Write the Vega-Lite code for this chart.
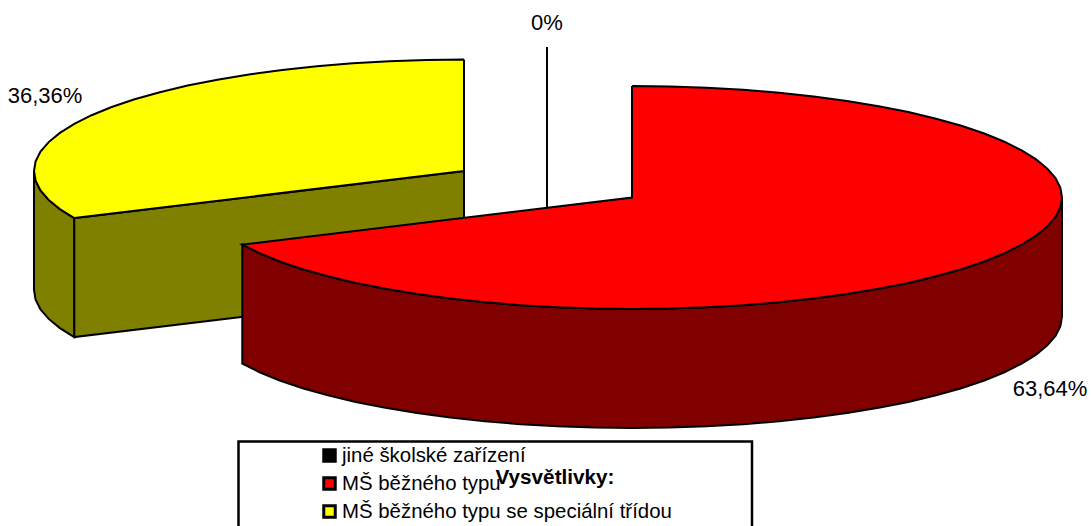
{
  "$schema": "https://vega.github.io/schema/vega-lite/v6.json",
  "width": 1091,
  "height": 526,
  "padding": 0,
  "autosize": {"type": "fit", "contains": "padding"},
  "background": "white",
  "config": {"view": {"stroke": null}},
  "datasets": {
    "faces": [
      {"face":"spec_bok","x":34,"y":171},{"face":"spec_bok","x":35.6,"y":180.7},{"face":"spec_bok","x":40.5,"y":190.4},{"face":"spec_bok","x":48.7,"y":199.9},{"face":"spec_bok","x":59.9,"y":209.1},{"face":"spec_bok","x":74.3,"y":218.1},{"face":"spec_bok","x":74.3,"y":337.1},{"face":"spec_bok","x":59.9,"y":328.1},{"face":"spec_bok","x":48.7,"y":318.9},{"face":"spec_bok","x":40.5,"y":309.4},{"face":"spec_bok","x":35.6,"y":299.7},{"face":"spec_bok","x":34,"y":290},{"face":"spec_bok","x":34,"y":171},
      {"face":"spec_rez","x":74.3,"y":218.1},{"face":"spec_rez","x":464,"y":171},{"face":"spec_rez","x":464,"y":290},{"face":"spec_rez","x":74.3,"y":337.1},{"face":"spec_rez","x":74.3,"y":218.1},
      {"face":"spec","x":464,"y":59.5},{"face":"spec","x":426.5,"y":59.9},{"face":"spec","x":389.3,"y":61.2},{"face":"spec","x":352.7,"y":63.3},{"face":"spec","x":316.9,"y":66.2},{"face":"spec","x":282.3,"y":69.9},{"face":"spec","x":249,"y":74.4},{"face":"spec","x":217.4,"y":79.7},{"face":"spec","x":187.6,"y":85.6},{"face":"spec","x":159.9,"y":92.2},{"face":"spec","x":134.6,"y":99.3},{"face":"spec","x":111.7,"y":107},{"face":"spec","x":91.6,"y":115.2},{"face":"spec","x":74.3,"y":123.9},{"face":"spec","x":59.9,"y":132.9},{"face":"spec","x":48.7,"y":142.1},{"face":"spec","x":40.5,"y":151.6},{"face":"spec","x":35.6,"y":161.3},{"face":"spec","x":34,"y":171},{"face":"spec","x":35.6,"y":180.7},{"face":"spec","x":40.5,"y":190.4},{"face":"spec","x":48.7,"y":199.9},{"face":"spec","x":59.9,"y":209.1},{"face":"spec","x":74.3,"y":218.1},{"face":"spec","x":464,"y":171},{"face":"spec","x":464,"y":59.5},
      {"face":"jine","x":547,"y":47},{"face":"jine","x":547,"y":207.8},
      {"face":"ms_bok","x":1062,"y":197.5},{"face":"ms_bok","x":1060.4,"y":207.2},{"face":"ms_bok","x":1055.5,"y":216.9},{"face":"ms_bok","x":1047.3,"y":226.4},{"face":"ms_bok","x":1036.1,"y":235.6},{"face":"ms_bok","x":1021.7,"y":244.6},{"face":"ms_bok","x":1004.4,"y":253.3},{"face":"ms_bok","x":984.3,"y":261.5},{"face":"ms_bok","x":961.4,"y":269.2},{"face":"ms_bok","x":936.1,"y":276.3},{"face":"ms_bok","x":908.4,"y":282.9},{"face":"ms_bok","x":878.6,"y":288.8},{"face":"ms_bok","x":847,"y":294.1},{"face":"ms_bok","x":813.7,"y":298.6},{"face":"ms_bok","x":779.1,"y":302.3},{"face":"ms_bok","x":743.3,"y":305.2},{"face":"ms_bok","x":706.7,"y":307.3},{"face":"ms_bok","x":669.5,"y":308.6},{"face":"ms_bok","x":632,"y":309},{"face":"ms_bok","x":594.5,"y":308.6},{"face":"ms_bok","x":557.3,"y":307.3},{"face":"ms_bok","x":520.7,"y":305.2},{"face":"ms_bok","x":484.9,"y":302.3},{"face":"ms_bok","x":450.3,"y":298.6},{"face":"ms_bok","x":417,"y":294.1},{"face":"ms_bok","x":385.4,"y":288.8},{"face":"ms_bok","x":355.6,"y":282.9},{"face":"ms_bok","x":327.9,"y":276.3},{"face":"ms_bok","x":302.6,"y":269.2},{"face":"ms_bok","x":279.7,"y":261.5},{"face":"ms_bok","x":259.6,"y":253.3},{"face":"ms_bok","x":242.3,"y":244.6},
      {"face":"ms_bok","x":242.3,"y":363.6},{"face":"ms_bok","x":259.6,"y":372.3},{"face":"ms_bok","x":279.7,"y":380.5},{"face":"ms_bok","x":302.6,"y":388.2},{"face":"ms_bok","x":327.9,"y":395.3},{"face":"ms_bok","x":355.6,"y":401.9},{"face":"ms_bok","x":385.4,"y":407.8},{"face":"ms_bok","x":417,"y":413.1},{"face":"ms_bok","x":450.3,"y":417.6},{"face":"ms_bok","x":484.9,"y":421.3},{"face":"ms_bok","x":520.7,"y":424.2},{"face":"ms_bok","x":557.3,"y":426.3},{"face":"ms_bok","x":594.5,"y":427.6},{"face":"ms_bok","x":632,"y":428},{"face":"ms_bok","x":669.5,"y":427.6},{"face":"ms_bok","x":706.7,"y":426.3},{"face":"ms_bok","x":743.3,"y":424.2},{"face":"ms_bok","x":779.1,"y":421.3},{"face":"ms_bok","x":813.7,"y":417.6},{"face":"ms_bok","x":847,"y":413.1},{"face":"ms_bok","x":878.6,"y":407.8},{"face":"ms_bok","x":908.4,"y":401.9},{"face":"ms_bok","x":936.1,"y":395.3},{"face":"ms_bok","x":961.4,"y":388.2},{"face":"ms_bok","x":984.3,"y":380.5},{"face":"ms_bok","x":1004.4,"y":372.3},{"face":"ms_bok","x":1021.7,"y":363.6},{"face":"ms_bok","x":1036.1,"y":354.6},{"face":"ms_bok","x":1047.3,"y":345.4},{"face":"ms_bok","x":1055.5,"y":335.9},{"face":"ms_bok","x":1060.4,"y":326.2},{"face":"ms_bok","x":1062,"y":316.5},{"face":"ms_bok","x":1062,"y":197.5},
      {"face":"ms","x":632,"y":86},{"face":"ms","x":669.5,"y":86.4},{"face":"ms","x":706.7,"y":87.7},{"face":"ms","x":743.3,"y":89.8},{"face":"ms","x":779.1,"y":92.7},{"face":"ms","x":813.7,"y":96.4},{"face":"ms","x":847,"y":100.9},{"face":"ms","x":878.6,"y":106.2},{"face":"ms","x":908.4,"y":112.1},{"face":"ms","x":936.1,"y":118.7},{"face":"ms","x":961.4,"y":125.8},{"face":"ms","x":984.3,"y":133.5},{"face":"ms","x":1004.4,"y":141.7},{"face":"ms","x":1021.7,"y":150.4},{"face":"ms","x":1036.1,"y":159.4},{"face":"ms","x":1047.3,"y":168.6},{"face":"ms","x":1055.5,"y":178.1},{"face":"ms","x":1060.4,"y":187.8},{"face":"ms","x":1062,"y":197.5},{"face":"ms","x":1060.4,"y":207.2},{"face":"ms","x":1055.5,"y":216.9},{"face":"ms","x":1047.3,"y":226.4},{"face":"ms","x":1036.1,"y":235.6},{"face":"ms","x":1021.7,"y":244.6},{"face":"ms","x":1004.4,"y":253.3},{"face":"ms","x":984.3,"y":261.5},{"face":"ms","x":961.4,"y":269.2},{"face":"ms","x":936.1,"y":276.3},{"face":"ms","x":908.4,"y":282.9},{"face":"ms","x":878.6,"y":288.8},{"face":"ms","x":847,"y":294.1},{"face":"ms","x":813.7,"y":298.6},{"face":"ms","x":779.1,"y":302.3},{"face":"ms","x":743.3,"y":305.2},{"face":"ms","x":706.7,"y":307.3},{"face":"ms","x":669.5,"y":308.6},{"face":"ms","x":632,"y":309},{"face":"ms","x":594.5,"y":308.6},{"face":"ms","x":557.3,"y":307.3},{"face":"ms","x":520.7,"y":305.2},{"face":"ms","x":484.9,"y":302.3},{"face":"ms","x":450.3,"y":298.6},{"face":"ms","x":417,"y":294.1},{"face":"ms","x":385.4,"y":288.8},{"face":"ms","x":355.6,"y":282.9},{"face":"ms","x":327.9,"y":276.3},{"face":"ms","x":302.6,"y":269.2},{"face":"ms","x":279.7,"y":261.5},{"face":"ms","x":259.6,"y":253.3},{"face":"ms","x":242.3,"y":244.6},{"face":"ms","x":632,"y":197.5},{"face":"ms","x":632,"y":86}
    ],
    "frame": [
      {"x":238.5,"y":526},{"x":238.5,"y":441.5},{"x":752,"y":441.5},{"x":752,"y":526}
    ],
    "shares": [
      {"label":"0%","x":547,"y":23},
      {"label":"36,36%","x":45,"y":96},
      {"label":"63,64%","x":1050,"y":389}
    ],
    "keys": [
      {"face":"jine","label":"jiné školské zařízení","x":329.5,"tx":342,"y":455.5},
      {"face":"ms","label":"MŠ běžného typu","x":329.5,"tx":342,"y":483.5},
      {"face":"spec","label":"MŠ běžného typu se speciální třídou","x":329.5,"tx":342,"y":511.5}
    ],
    "heading": [
      {"label":"Vysvětlivky:","x":555,"y":478}
    ]
  },
  "layer": [
    {
      "data": {"name": "faces"},
      "mark": {"type": "line", "stroke": "black", "strokeWidth": 2, "strokeJoin": "miter", "clip": true},
      "encoding": {
        "x": {"field": "x", "type": "quantitative", "scale": {"domain": [0, 1091], "nice": false, "zero": false}, "axis": null},
        "y": {"field": "y", "type": "quantitative", "scale": {"domain": [526, 0], "nice": false, "zero": false}, "axis": null},
        "detail": {"field": "face"},
        "fill": {"field": "face", "type": "nominal", "legend": null,
          "scale": {"domain": ["jine", "ms", "ms_bok", "spec", "spec_bok", "spec_rez"], "range": ["#000000", "#ff0000", "#800000", "#ffff00", "#808000", "#808000"]}},
        "order": {"value": null}
      }
    },
    {
      "data": {"name": "frame"},
      "mark": {"type": "line", "stroke": "black", "strokeWidth": 2.5, "clip": true},
      "encoding": {
        "x": {"field": "x", "type": "quantitative", "axis": null},
        "y": {"field": "y", "type": "quantitative", "axis": null},
        "order": {"value": null}
      }
    },
    {
      "data": {"name": "keys"},
      "mark": {"type": "point", "shape": "square", "size": 132, "filled": true, "opacity": 1, "stroke": "black", "strokeWidth": 3},
      "encoding": {
        "x": {"field": "x", "type": "quantitative", "axis": null},
        "y": {"field": "y", "type": "quantitative", "axis": null},
        "fill": {"field": "face", "type": "nominal", "legend": null}
      }
    },
    {
      "data": {"name": "keys"},
      "mark": {"type": "text", "align": "left", "baseline": "middle", "font": "Liberation Sans", "fontSize": 20.4, "color": "black"},
      "encoding": {
        "x": {"field": "tx", "type": "quantitative", "axis": null},
        "y": {"field": "y", "type": "quantitative", "axis": null},
        "text": {"field": "label"}
      }
    },
    {
      "data": {"name": "heading"},
      "mark": {"type": "text", "align": "center", "baseline": "middle", "font": "Liberation Sans", "fontWeight": "bold", "fontSize": 20.7, "color": "black"},
      "encoding": {
        "x": {"field": "x", "type": "quantitative", "axis": null},
        "y": {"field": "y", "type": "quantitative", "axis": null},
        "text": {"field": "label"}
      }
    },
    {
      "data": {"name": "shares"},
      "mark": {"type": "text", "align": "center", "baseline": "middle", "font": "Liberation Sans", "fontSize": 22, "color": "black"},
      "encoding": {
        "x": {"field": "x", "type": "quantitative", "axis": null},
        "y": {"field": "y", "type": "quantitative", "axis": null},
        "text": {"field": "label"}
      }
    }
  ]
}
